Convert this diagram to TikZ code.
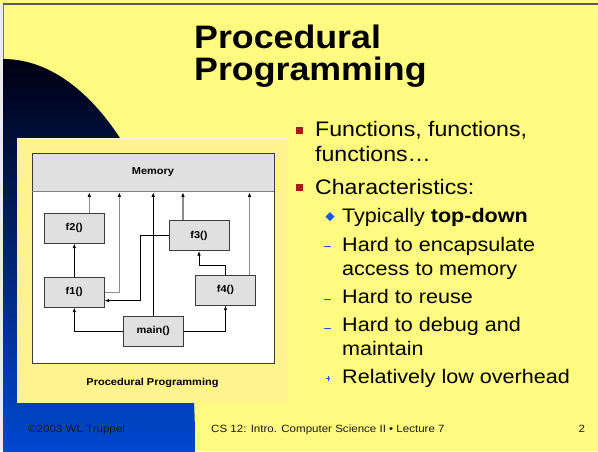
\documentclass[tikz,border=0pt]{standalone}
\usepackage{fontspec}
\setmainfont{Liberation Sans}[FakeStretch=1.1]
\usetikzlibrary{arrows.meta,calc}

\definecolor{slideyellow}{RGB}{255,250,128}
\definecolor{panelyellow}{RGB}{255,243,142}
\definecolor{navytop}{RGB}{0,0,18}
\definecolor{navybot}{RGB}{0,72,208}
\definecolor{boxgray}{RGB}{224,224,224}
\definecolor{framegray}{RGB}{60,60,60}
\definecolor{linegray}{RGB}{140,140,140}
\definecolor{bulletred}{RGB}{170,25,25}
\definecolor{bulletblue}{RGB}{25,85,230}
\definecolor{footertext}{RGB}{25,25,25}

\tikzset{
  titletext/.style={anchor=base west, inner sep=0pt, font=\fontsize{32.5}{32}\selectfont\bfseries},
  lvlone/.style={anchor=base west, inner sep=0pt, font=\fontsize{21}{25}\selectfont},
  lvltwo/.style={anchor=base west, inner sep=0pt, font=\fontsize{19.6}{24}\selectfont},
  foottext/.style={anchor=base west, inner sep=0pt, text=footertext, font=\fontsize{10.5}{12}\selectfont},
  funcbox/.style={draw=framegray, line width=0.7pt, fill=boxgray, minimum width=60pt,
    minimum height=30pt, inner sep=0pt, font=\fontsize{10}{12}\selectfont\bfseries},
  callarrow/.style={draw=black, line width=0.75pt, -{Latex[length=4.5pt,width=3.6pt]}},
  memarrow/.style={draw=linegray, line width=1.5pt,
    -{Latex[length=4.5pt,width=3.6pt,color=black]}},
}

\begin{document}
\begin{tikzpicture}[x=1pt,y=-1pt]
\useasboundingbox (0,0) rectangle (598,451);

% slide background and frame edges
\fill[slideyellow] (0,0) rectangle (598,451);
\fill[white!92!black] (0,4) rectangle (3,451);
\draw[black!55, line width=0.8pt] (3,4) -- (3,451);
\draw[black!65, line width=1.5pt] (3,4) -- (598,4);

% dark blue quarter ellipse on the left
\begin{scope}
  \clip (3,0) rectangle (598,451);
  \clip (3,441) ellipse [x radius=192pt, y radius=382pt];
  \shade[top color=navytop, bottom color=navybot] (3,59) rectangle (200,451);
\end{scope}

% title
\node[titletext] (title1) at (194,48.3) {Procedural};
\node[titletext] (title2) at (194,80) {Programming};

% figure panel
\fill[panelyellow] (17,138) rectangle (288,403);
\draw[white!55!panelyellow, line width=0.6pt] (17,138.3) -- (288,138.3);

% diagram frame and memory band
\node[draw=framegray, line width=0.8pt, fill=white, minimum width=242pt, minimum height=210pt,
      inner sep=0pt] (frame) at (153,258) {};
\node[draw=framegray, line width=0.8pt, fill=boxgray, minimum width=242pt, minimum height=38pt,
      inner sep=0pt, font=\fontsize{10}{12}\selectfont\bfseries] (mem) at (153,172) {Memory};
\draw[black!50, line width=1.8pt] (mem.south west) -- (mem.south east);

% function boxes
\node[funcbox] (f2) at (74.3,228.3) {f2()};
\node[funcbox] (f3) at (199,235.8) {f3()};
\node[funcbox] (f1) at (74.3,292.3) {f1()};
\node[funcbox] (f4) at (225.5,290.2) {f4()};
\node[funcbox] (main) at (153.2,331.4) {main()};

% bend and exit points of the connectors
\coordinate (f2out) at ($(f2.north)+(15,0)$);
\coordinate (f1bend) at ($(f1.east)+(14.7,0)$);
\coordinate (f3out) at ($(f3.north)+(-16,0)$);
\coordinate (f4out) at ($(f4.north)+(24,0)$);
\coordinate (f4bend) at ($(f4.north)+(0,-9.3)$);
\coordinate (f1in) at ($(f1.east)+(0,8.3)$);
\coordinate (f3bend) at ($(f1.east)+(35.7,8.3)$);

% memory accesses
\draw[memarrow, shorten >=1pt] (f2out) -- (f2out |- mem.south);
\draw[memarrow, shorten >=1pt] (f1.east) -- (f1bend) -- (f1bend |- mem.south);
\draw[callarrow, shorten >=1pt] (main.north) -- (main.north |- mem.south);
\draw[memarrow, shorten >=1pt] (f3out) -- (f3out |- mem.south);
\draw[memarrow, shorten >=1pt] (f4out) -- (f4out |- mem.south);

% calls
\draw[callarrow] (f1.north) -- (f2.south);
\draw[callarrow] (main.west) -| (f1.south);
\draw[callarrow] (main.east) -| (f4.south);
\draw[callarrow] (f4.north) -- (f4bend) -| (f3.south);
\draw[callarrow] (f3.west) -| (f3bend) -- (f1in);

% caption
\node[inner sep=0pt, font=\fontsize{10}{12}\selectfont\bfseries] (caption) at (152.5,383) {Procedural Programming};

% bullets
\fill[bulletred] (295.5,127) rectangle (302.5,134);
\fill[bulletred] (295.5,183.5) rectangle (302.5,190.5);
\fill[bulletblue] (325.5,216.5) -- (330,212) -- (334.5,216.5) -- (330,221) -- cycle;
\draw[bulletblue, line width=1.2pt] (324,246.7) -- (330.7,246.7);
\draw[bulletblue, line width=1.2pt] (324,299.3) -- (330.7,299.3);
\draw[bulletblue, line width=1.2pt] (324,328.3) -- (330.7,328.3);
\draw[bulletblue, line width=1pt] (325.6,378.3) -- (330.4,378.3) (328,375.9) -- (328,380.7);

% bullet text
\node[lvlone] (b1a) at (315,136.7) {Functions, functions,};
\node[lvlone] (b1b) at (315,161.7) {functions…};
\node[lvlone] (b2) at (315,194.3) {Characteristics:};
\node[lvltwo] (c1) at (342,222.3) {Typically \textbf{top-down}};
\node[lvltwo] (c2a) at (342,251.2) {Hard to encapsulate};
\node[lvltwo] (c2b) at (342,275) {access to memory};
\node[lvltwo] (c3) at (342,303.3) {Hard to reuse};
\node[lvltwo] (c4a) at (342,331.7) {Hard to debug and};
\node[lvltwo] (c4b) at (342,355) {maintain};
\node[lvltwo] (c5) at (342,383.3) {Relatively low overhead};

% footer
\node[foottext] (copy) at (28,432.3) {©2003 WL Truppel};
\node[foottext] (course) at (211,432.3) {CS 12: Intro. Computer Science II • Lecture 7};
\node[foottext] (page) at (578.5,432.3) {2};
\end{tikzpicture}
\end{document}
